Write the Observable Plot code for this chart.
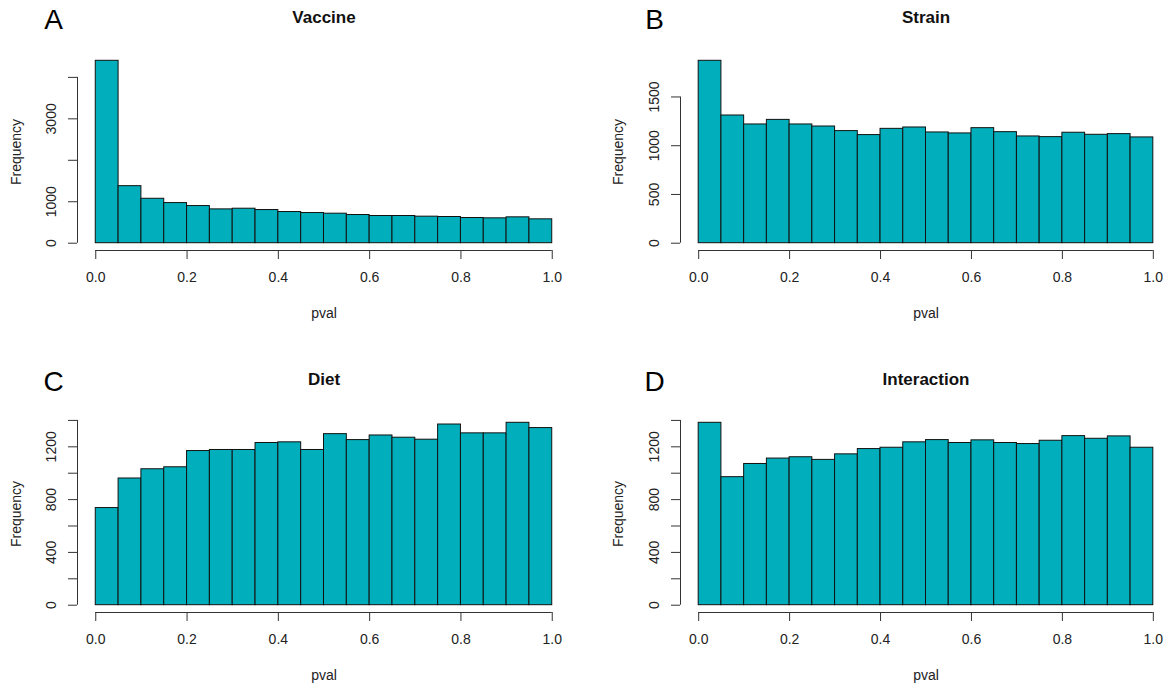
<!DOCTYPE html>
<html>
<head>
<meta charset="utf-8">
<script src="https://cdn.jsdelivr.net/npm/d3@7"></script>
<script src="https://cdn.jsdelivr.net/npm/@observablehq/plot@0.6"></script>
<style>
  html, body { margin: 0; padding: 0; background: #fff; overflow: hidden; }
  #root { position: relative; width: 1168px; height: 687px; overflow: hidden; background: #fff; }
  .panel { position: absolute; }
  .panel svg { max-width: none !important; display: block; }
</style>
</head>
<body>
<div id="root"></div>
<script>
// ---- data ----
const breaks = [0, 0.05, 0.1, 0.15, 0.2, 0.25, 0.3, 0.35, 0.4, 0.45, 0.5, 0.55, 0.6, 0.65, 0.7, 0.75, 0.8, 0.85, 0.9, 0.95, 1.0];
const xTicks = [0, 0.2, 0.4, 0.6, 0.8, 1.0];

const vaccineCounts = [4400, 1376, 1072, 968, 896, 816, 832, 800, 752, 728, 712, 680, 656, 656, 640, 632, 608, 600, 624, 576];
const strainCounts = [1871, 1310, 1218, 1265, 1218, 1197, 1150, 1109, 1173, 1187, 1136, 1126, 1180, 1139, 1095, 1088, 1133, 1112, 1119, 1085];
const dietCounts = [736, 960, 1030, 1045, 1168, 1176, 1176, 1229, 1234, 1176, 1296, 1251, 1286, 1269, 1254, 1369, 1302, 1302, 1382, 1342];
const interactionCounts = [1382, 970, 1070, 1111, 1121, 1101, 1143, 1183, 1193, 1234, 1251, 1229, 1249, 1229, 1221, 1246, 1281, 1261, 1279, 1193];

const vaccineTicks = [0, 1000, 2000, 3000, 4000];
const vaccineTickLabels = [0, 1000, 3000];
const strainTicks = [0, 500, 1000, 1500];
const strainTickLabels = [0, 500, 1000, 1500];
const dietTicks = [0, 200, 400, 600, 800, 1000, 1200, 1400];
const dietTickLabels = [0, 400, 800, 1200];
const interactionTicks = [0, 200, 400, 600, 800, 1000, 1200, 1400];
const interactionTickLabels = [0, 400, 800, 1200];

const titles = ["Vaccine", "Strain", "Diet", "Interaction"];
const letters = ["A", "B", "C", "D"];
const xLabel = "pval";
const yLabel = "Frequency";

// ---- drawing ----
const FONT = "'Liberation Sans', Arial, Helvetica, sans-serif";
const FILL = "#00AFBB";

function panel({title, letter, counts, yTicks, yLabels, width, marginLeft, marginRight, letterDx, freqDx}) {
  const M = d3.max(counts);
  const bins = counts.map((c, i) => ({x1: breaks[i], x2: breaks[i + 1], count: c}));
  return Plot.plot({
    width,
    height: 325,
    marginTop: 53,
    marginBottom: 75,
    marginLeft,
    marginRight,
    style: {fontFamily: FONT, fontSize: "14px", color: "#222", background: "transparent", overflow: "visible", maxWidth: "none"},
    x: {domain: [-0.04, 1.04], label: null},
    y: {domain: [-0.04 * M, 1.04 * M], label: null},
    marks: [
      Plot.rectY(bins, {x1: "x1", x2: "x2", y: "count", fill: FILL, stroke: "#111", strokeWidth: 1}),
      Plot.ruleX([-0.04], {y1: 0, y2: yTicks[yTicks.length - 1], stroke: "#333", strokeWidth: 1}),
      Plot.ruleY([-0.04 * M], {x1: 0, x2: 1, stroke: "#333", strokeWidth: 1}),
      Plot.axisY({ticks: yTicks, tickSize: 9, tickRotate: -90, tickPadding: 13, stroke: "#333",
        tickFormat: d => yLabels.includes(d) ? String(d) : "", fill: "#222", fontSize: 14}),
      Plot.axisX({ticks: xTicks, tickSize: 9, tickPadding: 13, stroke: "#333",
        tickFormat: d => d.toFixed(1), fill: "#222", fontSize: 14}),
      Plot.text([title], {text: d => d, frameAnchor: "top", dy: -36, lineAnchor: "middle", textAnchor: "middle",
        fontWeight: "bold", fontSize: 17, fill: "#111"}),
      Plot.text([xLabel], {text: d => d, frameAnchor: "bottom", dy: 63, lineAnchor: "middle", textAnchor: "middle",
        fontSize: 14, fill: "#222"}),
      Plot.text([yLabel], {text: d => d, frameAnchor: "left", dx: freqDx, rotate: -90, lineAnchor: "middle",
        textAnchor: "middle", fontSize: 14, fill: "#222"}),
      Plot.text([letter], {text: d => d, frameAnchor: "top-left", dx: letterDx, dy: -33, lineAnchor: "middle",
        textAnchor: "middle", fontSize: 28, fill: "#000"})
    ]
  });
}

const root = document.getElementById("root");
const specs = [
  {left: 0, top: 0, title: titles[0], letter: letters[0], counts: vaccineCounts, yTicks: vaccineTicks, yLabels: vaccineTickLabels,
   width: 584, marginLeft: 77, marginRight: 14, letterDx: -24, freqDx: -61},
  {left: 584, top: 0, title: titles[1], letter: letters[1], counts: strainCounts, yTicks: strainTicks, yLabels: strainTickLabels,
   width: 590, marginLeft: 96, marginRight: 3, letterDx: -26, freqDx: -62},
  {left: 0, top: 362, title: titles[2], letter: letters[2], counts: dietCounts, yTicks: dietTicks, yLabels: dietTickLabels,
   width: 584, marginLeft: 77, marginRight: 14, letterDx: -24, freqDx: -61},
  {left: 584, top: 362, title: titles[3], letter: letters[3], counts: interactionCounts, yTicks: interactionTicks, yLabels: interactionTickLabels,
   width: 590, marginLeft: 96, marginRight: 3, letterDx: -26, freqDx: -62}
];
for (const s of specs) {
  const div = document.createElement("div");
  div.className = "panel";
  div.style.left = s.left + "px";
  div.style.top = s.top + "px";
  div.style.width = s.width + "px";
  div.appendChild(panel(s));
  root.appendChild(div);
}
</script>
</body>
</html>
